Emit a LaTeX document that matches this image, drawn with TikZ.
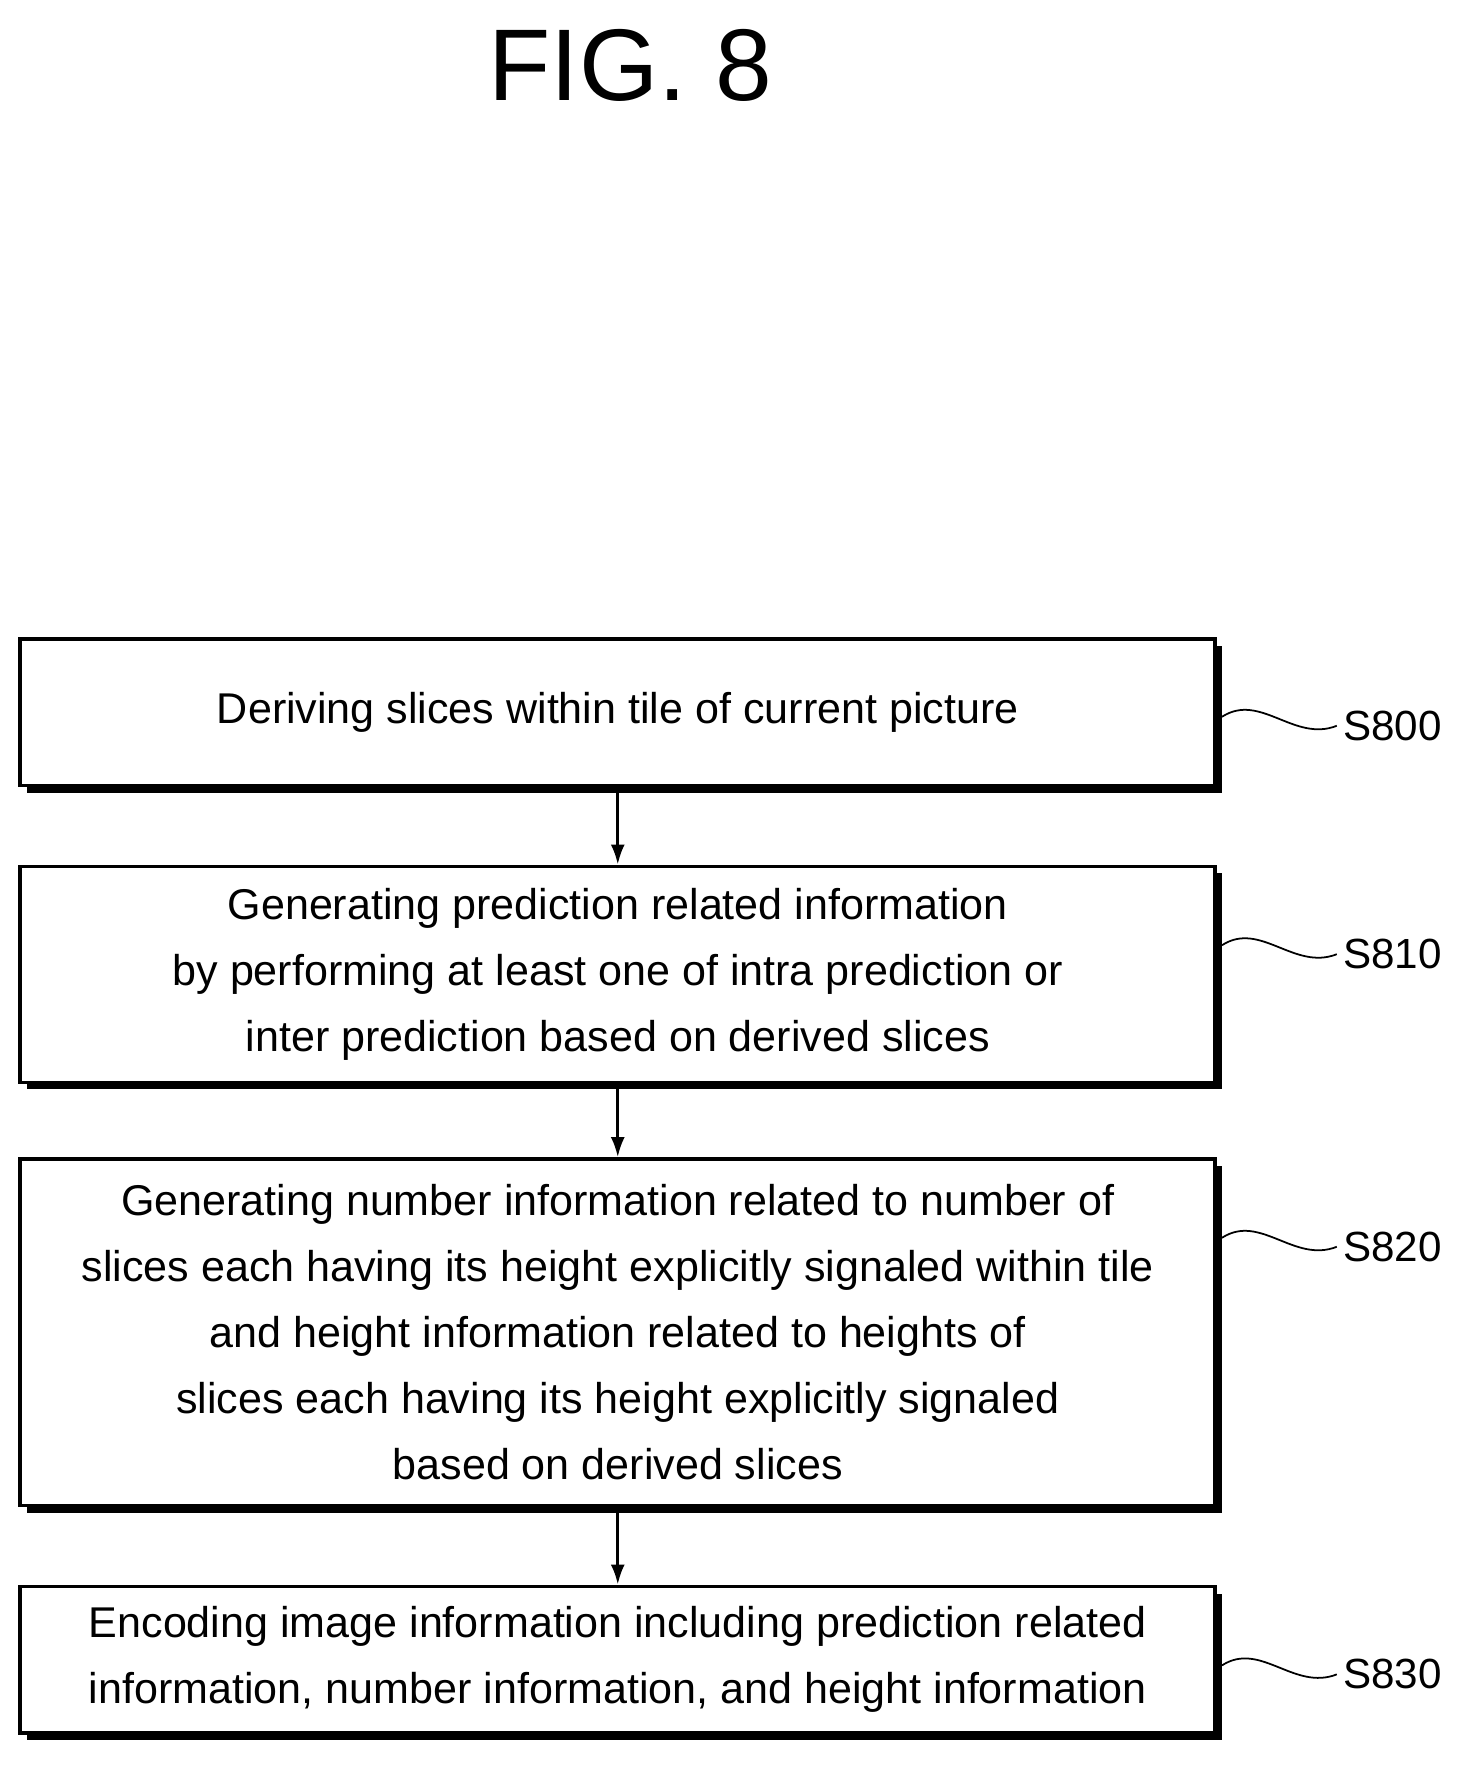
\documentclass[tikz,border=0pt]{standalone}
\usepackage{fontspec}
\setmainfont{Liberation Sans}
\usetikzlibrary{shadows,arrows.meta}
\tikzset{
  stepbox/.style={draw,line width=2.2pt,fill=white,minimum width=23.9cm,align=center,
    font=\fontsize{24.5}{37.5}\selectfont,
    drop shadow={shadow xshift=0.14cm,shadow yshift=-0.14cm,opacity=1,fill=black}},
  tag/.style={anchor=west,font=\fontsize{24}{28}\selectfont},
  arr/.style={line width=1.6pt,-{Latex[length=0.4cm,width=0.28cm]}}
}
\begin{document}
\begin{tikzpicture}[x=0.0225cm,y=-0.0225cm]
\useasboundingbox (0,0) rectangle (1300,1573);
\node[font=\fontsize{58}{64}\selectfont] (title) at (560,58) {FIG. 8};
\node[stepbox,minimum height=2.93cm] (S800) at (549,633) {Deriving slices within tile of current picture};
\node[stepbox,minimum height=4.32cm] (S810) at (549,866) {Generating prediction related information\\by performing at least one of intra prediction or\\inter prediction based on derived slices};
\node[stepbox,minimum height=6.93cm] (S820) at (549,1184) {Generating number information related to number of\\slices each having its height explicitly signaled within tile\\and height information related to heights of\\slices each having its height explicitly signaled\\based on derived slices};
\node[stepbox,minimum height=2.93cm] (S830) at (549,1475) {Encoding image information including prediction related\\information, number information, and height information};
\draw[arr] (S800) -- (S810);
\draw[arr] (S810) -- (S820);
\draw[arr] (S820) -- (S830);
\foreach \s/\y in {S800/645,S810/848,S820/1108,S830/1488}{
  \node[tag] (l\s) at (1188,\y) {\s};
  \coordinate (c\s) at (1086,\y-8);
  \draw[line width=1pt] (c\s) .. controls (1120,\y-30) and (1150,\y+15) .. (l\s.west);
}
\end{tikzpicture}
\end{document}
